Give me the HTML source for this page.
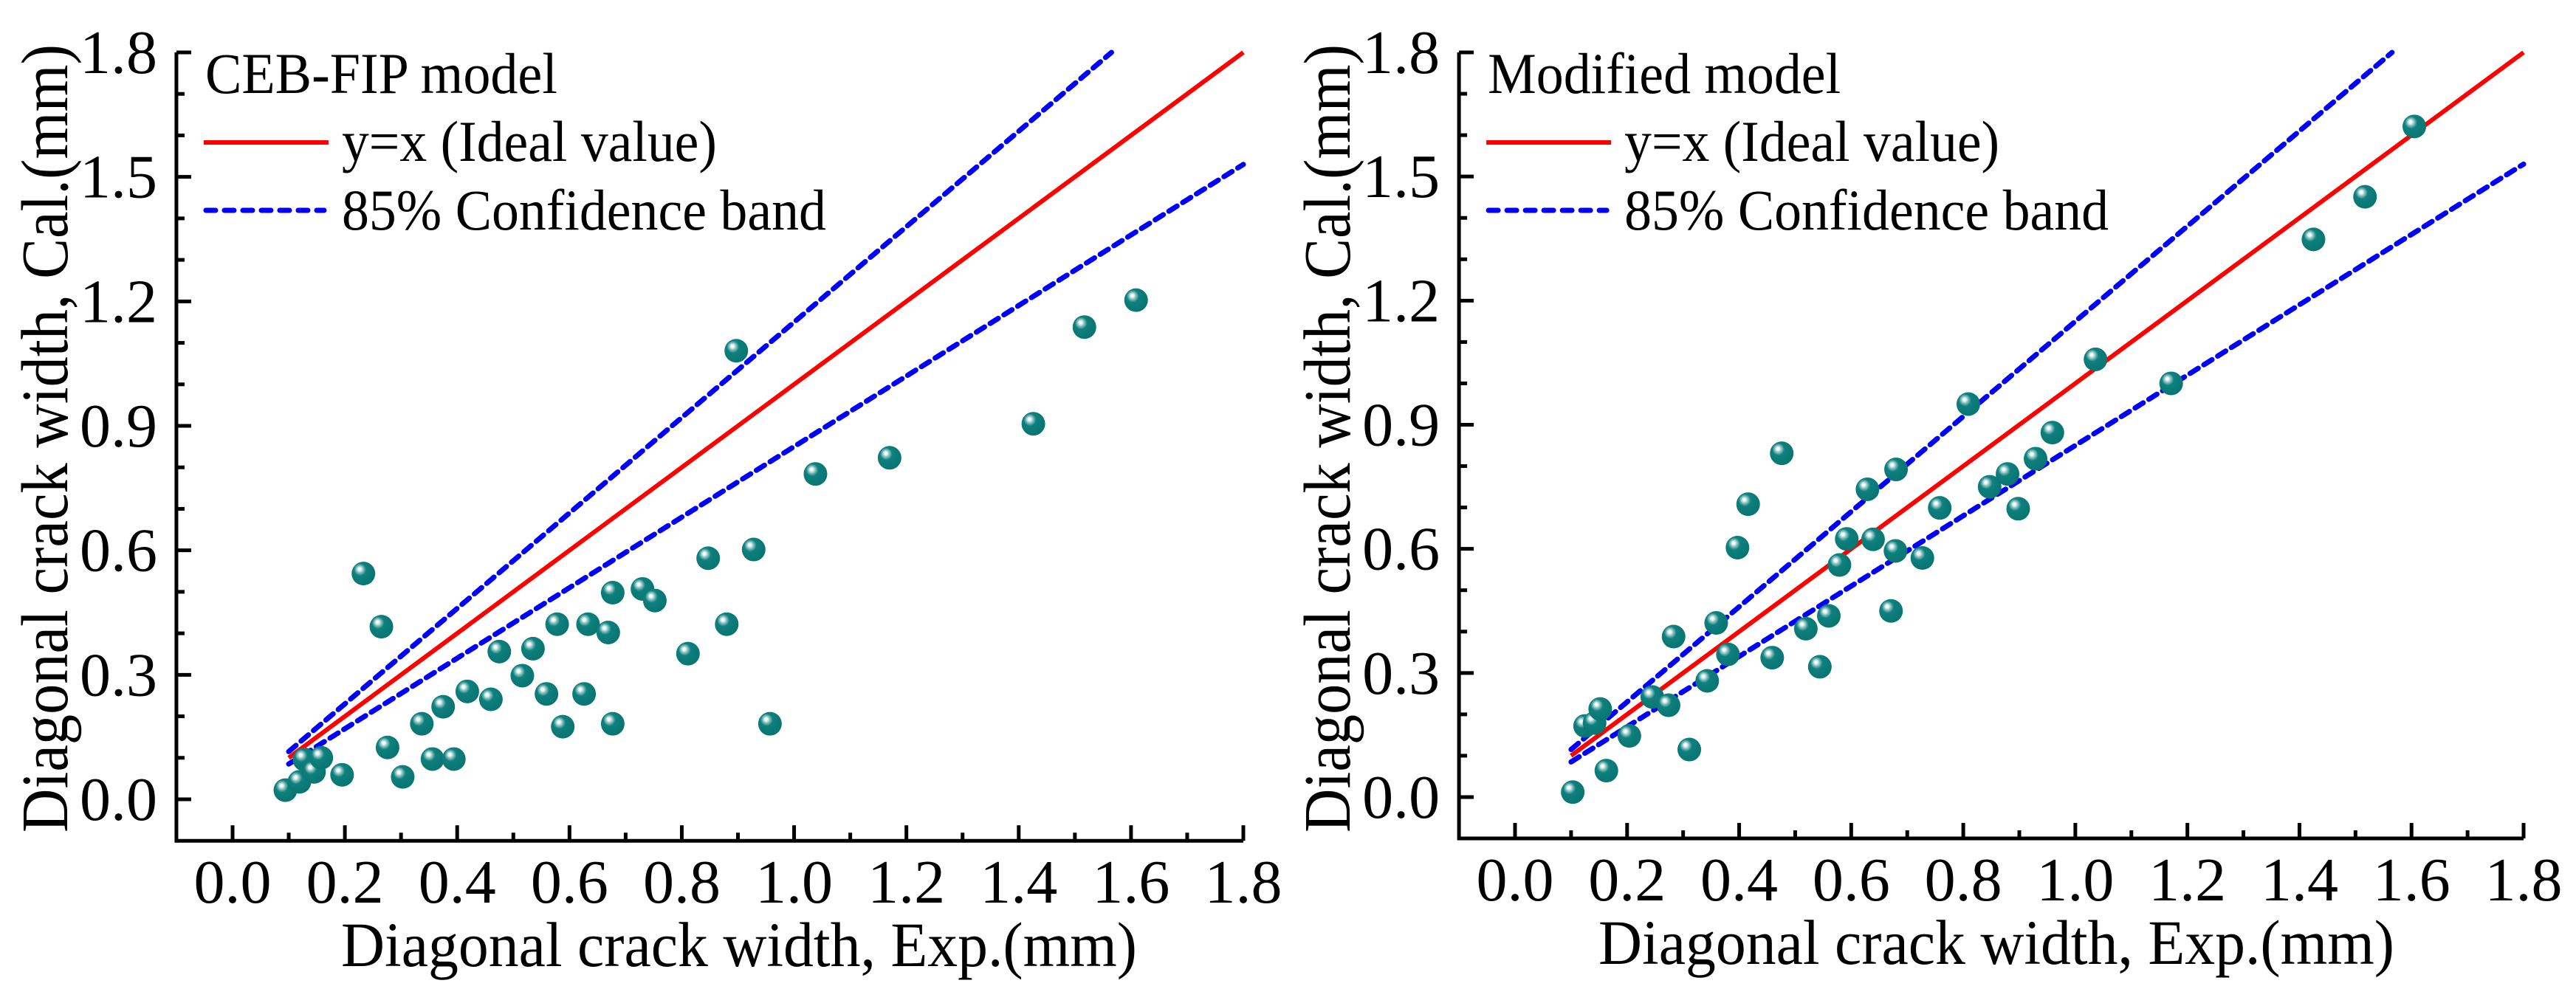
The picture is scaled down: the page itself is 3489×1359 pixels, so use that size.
<!DOCTYPE html>
<html><head><meta charset="utf-8"><style>
html,body{margin:0;padding:0;background:#fff;}
svg{display:block;}
svg text{font-family:"Liberation Serif","Times New Roman",Times,serif;}
</style></head><body>
<svg id="fig" width="3489" height="1359" viewBox="0 0 3489 1359" xmlns="http://www.w3.org/2000/svg" font-family="Liberation Serif, Times New Roman, serif">
<defs>
<radialGradient id="ball" cx="0.4" cy="0.38" r="0.62" fx="0.33" fy="0.3">
<stop offset="0" stop-color="#ffffff"/>
<stop offset="0.1" stop-color="#eef7f7"/>
<stop offset="0.25" stop-color="#7fbcbc"/>
<stop offset="0.42" stop-color="#0e807d"/>
<stop offset="1" stop-color="#087572"/>
</radialGradient>
</defs>
</svg>
<script>
// Chart data
const xTicks = [0.0,0.2,0.4,0.6,0.8,1.0,1.2,1.4,1.6,1.8];
const yTicks = [0.0,0.3,0.6,0.9,1.2,1.5,1.8];
const leftExp = [0.094,0.119,0.128,0.145,0.158,0.195,0.233,0.265,0.276,0.303,0.337,0.356,0.375,0.394,0.418,0.46,0.475,0.516,0.535,0.559,0.578,0.588,0.626,0.633,0.669,0.677,0.677,0.73,0.752,0.811,0.847,0.88,0.897,0.928,0.957,1.038,1.17,1.426,1.517,1.609];
const leftCal = [0.022,0.042,0.096,0.066,0.10,0.059,0.544,0.416,0.125,0.054,0.182,0.097,0.223,0.097,0.26,0.241,0.356,0.298,0.363,0.254,0.422,0.175,0.254,0.422,0.402,0.498,0.182,0.507,0.479,0.351,0.581,0.422,1.081,0.602,0.182,0.784,0.823,0.905,1.138,1.203];
const rightExp = [0.103,0.125,0.142,0.152,0.163,0.204,0.245,0.274,0.283,0.311,0.343,0.359,0.38,0.397,0.416,0.459,0.476,0.519,0.544,0.56,0.579,0.592,0.629,0.639,0.671,0.679,0.68,0.727,0.758,0.809,0.847,0.879,0.898,0.929,0.959,1.036,1.171,1.425,1.517,1.605];
const rightCal = [0.012,0.172,0.179,0.213,0.064,0.148,0.242,0.222,0.388,0.115,0.281,0.421,0.345,0.603,0.708,0.337,0.831,0.407,0.315,0.438,0.561,0.624,0.744,0.623,0.45,0.595,0.792,0.578,0.699,0.95,0.75,0.781,0.697,0.818,0.881,1.058,1.0,1.348,1.451,1.621];
const upperSlope = [1.15];
const lowerSlope = [0.85];

const NS="http://www.w3.org/2000/svg";
const svg=document.getElementById('fig');
function mk(tag,attrs,parent){const e=document.createElementNS(NS,tag);for(const k in attrs)e.setAttribute(k,attrs[k]);(parent||svg).appendChild(e);return e;}

function panel(cfg){
  const g=mk('g',{});
  
  
  const X=v=>cfg.x0+(v)*(cfg.x18-cfg.x0)/1.8;
  const Y=v=>cfg.y0+(v)*(cfg.y18-cfg.y0)/1.8;
  const axL=X(-0.1), axB=Y(-0.1);
  const red=mk('line',{x1:X(0.1),y1:Y(0.1),x2:X(1.8),y2:Y(1.8),stroke:'#ff0000','stroke-width':6},g);
  
  
  const ux=1.8/upperSlope[0];
  const up=mk('line',{x1:X(0.1),y1:Y(0.1*upperSlope[0]),x2:X(ux),y2:Y(1.8),stroke:'#0000ff','stroke-width':7,'stroke-dasharray':'13 9','stroke-linecap':'round'},g);
  
  
  const lo=mk('line',{x1:X(0.1),y1:Y(0.1*lowerSlope[0]),x2:X(1.8),y2:Y(1.8*lowerSlope[0]),stroke:'#0000ff','stroke-width':7,'stroke-dasharray':'13 9','stroke-linecap':'round'},g);
  
  
  for(let i=0;i<cfg.xs.length;i++){
    const c=mk('circle',{cx:X(cfg.xs[i]),cy:Y(cfg.ys[i]),r:16,fill:'url(#ball)'},g);
    
    
  }
  const ax=mk('path',{d:`M${axL},${Y(1.8)} V${axB} H${X(1.8)}`,fill:'none',stroke:'#000','stroke-width':5},g);
  
  
  for(let k=0;k<=18;k++){
    const v=k/10, major=(k%2===0);
    mk('line',{x1:X(v),y1:axB,x2:X(v),y2:axB-(major?21:11),stroke:'#000','stroke-width':5},g);
    const maj3=(k%3===0);
    mk('line',{x1:axL,y1:Y(v),x2:axL+(maj3?20:11),y2:Y(v),stroke:'#000','stroke-width':5},g);
  }
  xTicks.forEach(v=>{
    const t=mk('text',{x:X(v),y:axB+84,'font-size':84,'text-anchor':'middle'},g);
    t.textContent=v.toFixed(1);
    
    
  });
  yTicks.forEach(v=>{
    const t=mk('text',{x:axL-26,y:Y(v)+28,'font-size':84,'text-anchor':'end'},g);
    t.textContent=v.toFixed(1);
    
    
  });
  const xt=mk('text',{x:cfg.xtX,y:axB+170,'font-size':86,textLength:1078,lengthAdjust:'spacingAndGlyphs'},g);
  xt.textContent='Diagonal crack width, Exp.(mm)';
  
  
  const yt=mk('text',{x:0,y:0,'font-size':90,'text-anchor':'middle',textLength:1068,lengthAdjust:'spacingAndGlyphs',transform:`translate(${axL-148},594) rotate(-90)`},g);
  yt.textContent='Diagonal crack width, Cal.(mm)';
  
  
  const lg=mk('g',{},g);
  
  
  const tt=mk('text',{x:axL+39,y:126,'font-size':78,textLength:cfg.titleLen,lengthAdjust:'spacingAndGlyphs'},lg);
  tt.textContent=cfg.title;
  
  
  mk('line',{x1:axL+37,y1:193,x2:axL+206,y2:193,stroke:'#ff0000','stroke-width':6},lg);
  const l1=mk('text',{x:axL+224,y:218,'font-size':78,textLength:508,lengthAdjust:'spacingAndGlyphs'},lg);
  l1.textContent='y=x (Ideal value)';
  
  
  mk('line',{x1:axL+40,y1:285,x2:axL+200,y2:285,stroke:'#0000ff','stroke-width':7,'stroke-dasharray':'13 12','stroke-linecap':'round'},lg);
  const l2=mk('text',{x:axL+224,y:311,'font-size':78,textLength:656,lengthAdjust:'spacingAndGlyphs'},lg);
  l2.textContent='85% Confidence band';
  
  
}
panel({name:'cebfip-panel',title:'CEB-FIP model',titleLen:477,x0:315,x18:1684,y0:1083,y18:71,xs:leftExp,ys:leftCal,xtX:462});
panel({name:'modified-panel',title:'Modified model',titleLen:478,x0:2052,x18:3418,y0:1080,y18:71,xs:rightExp,ys:rightCal,xtX:2165});
</script>
</body></html>
